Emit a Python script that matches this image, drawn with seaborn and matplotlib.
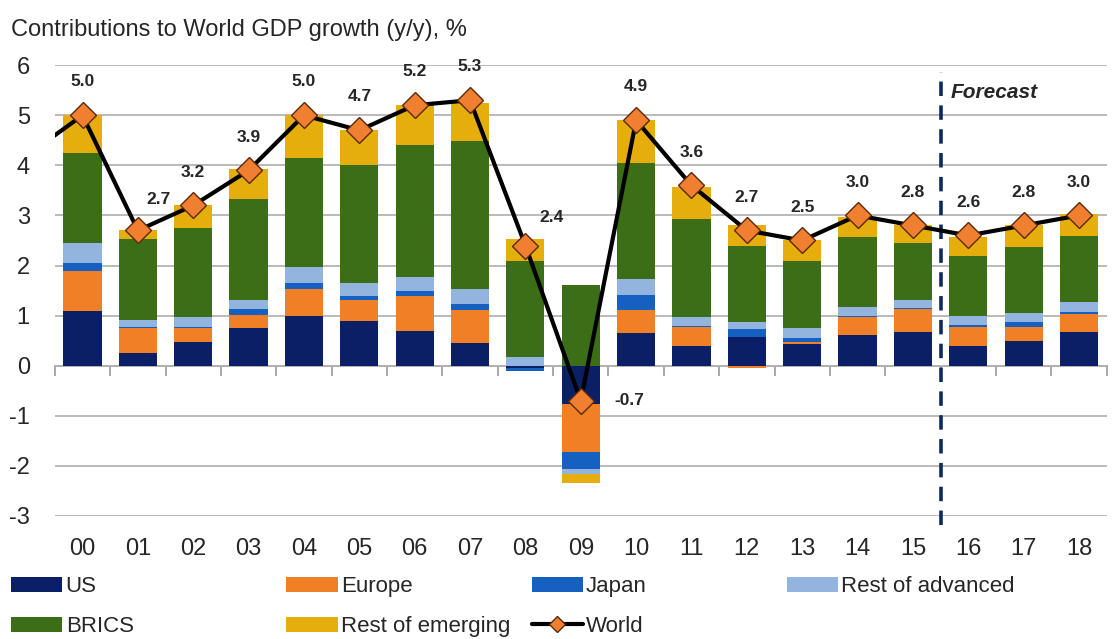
import numpy as np
import pandas as pd
import matplotlib
matplotlib.use("Agg")
import matplotlib.pyplot as plt
from matplotlib.patches import Patch
from matplotlib.lines import Line2D
import seaborn as sns

# contributions to world GDP growth, percentage points
years = ["00", "01", "02", "03", "04", "05", "06", "07", "08", "09",
         "10", "11", "12", "13", "14", "15", "16", "17", "18"]
us = [1.10, 0.25, 0.47, 0.75, 1.00, 0.89, 0.70, 0.45, -0.05, -0.77,
      0.65, 0.40, 0.58, 0.43, 0.62, 0.67, 0.40, 0.50, 0.67]
europe = [0.80, 0.50, 0.28, 0.27, 0.53, 0.42, 0.70, 0.66, 0.00, -0.96,
          0.46, 0.38, -0.05, 0.05, 0.35, 0.46, 0.37, 0.28, 0.36]
japan = [0.15, 0.02, 0.02, 0.11, 0.12, 0.09, 0.09, 0.12, -0.05, -0.34,
         0.31, 0.02, 0.15, 0.07, 0.02, 0.02, 0.05, 0.10, 0.05]
rest_adv = [0.40, 0.15, 0.20, 0.18, 0.32, 0.25, 0.29, 0.30, 0.17, -0.10,
            0.31, 0.17, 0.14, 0.20, 0.18, 0.16, 0.18, 0.17, 0.19]
brics = [1.80, 1.60, 1.78, 2.02, 2.18, 2.36, 2.62, 2.96, 1.93, 1.61,
         2.32, 1.96, 1.53, 1.35, 1.40, 1.14, 1.20, 1.32, 1.31]
rest_em = [0.75, 0.18, 0.45, 0.60, 0.85, 0.70, 0.80, 0.76, 0.42, -0.18,
           0.85, 0.64, 0.40, 0.41, 0.40, 0.35, 0.37, 0.44, 0.44]
world = [5.0, 2.7, 3.2, 3.9, 5.0, 4.7, 5.2, 5.3, 2.4, -0.7,
         4.9, 3.6, 2.7, 2.5, 3.0, 2.8, 2.6, 2.8, 3.0]
world_prev = 4.2   # 1999, only the start of the line shows at the left edge

series = {"US": us, "Europe": europe, "Japan": japan,
          "Rest of advanced": rest_adv, "BRICS": brics,
          "Rest of emerging": rest_em}
colors = {"US": "#0b1f66", "Europe": "#f07f25", "Japan": "#1560c0",
          "Rest of advanced": "#94b4e0", "BRICS": "#3b6e17",
          "Rest of emerging": "#e6ae0c"}

sns.set_theme(style="white")
plt.rcParams["font.family"] = ["Liberation Sans", "DejaVu Sans"]
plt.rcParams["axes.unicode_minus"] = False
txt = "#262626"

fig = plt.figure(figsize=(11.19, 6.39), dpi=100)
ax = fig.add_axes([0.049, 0.1925, 0.940, 0.7055])

# stacked bars, positives stack up from 0, negatives stack down
pos_base = np.zeros(len(years))
neg_base = np.zeros(len(years))
for name, vals in series.items():
    v = np.array(vals)
    base = np.where(v >= 0, pos_base, neg_base)
    df = pd.DataFrame({"year": years, "val": v})
    sns.barplot(data=df, x="year", y="val", order=years, bottom=base,
                color=colors[name], saturation=1, width=0.69,
                edgecolor="none", linewidth=0,
                errorbar=None, ax=ax, zorder=2)
    pos_base = pos_base + np.clip(v, 0, None)
    neg_base = neg_base + np.clip(v, None, 0)

# world line
xs = np.arange(-1, len(years))
sns.lineplot(x=xs, y=[world_prev] + world, sort=False, estimator=None,
             color="black", linewidth=3, marker="D", markersize=13,
             markerfacecolor="#f07f30", markeredgecolor="#5a2a10",
             markeredgewidth=1.0, ax=ax, zorder=5)

# value labels
offsets = {1: (15, 22), 8: (19, 20), 9: (24, 0)}
for i, w in enumerate(world):
    dx, dy = offsets.get(i, (0, 24))
    ax.annotate(f"{w:.1f}", (i, w), xytext=(dx, dy), textcoords="offset points",
                ha="left" if i == 9 else "center", va="center",
                fontsize=12.5, fontweight="bold", color=txt, zorder=6)

# forecast divider
ax.axvline(15.5, ymin=-0.02, ymax=0.985, color="#0e2a5c", linewidth=2.6,
           linestyle=(0, (4, 2.6)), clip_on=False, zorder=4)
ax.text(15.68, 5.45, "Forecast", fontsize=15, fontstyle="italic",
        fontweight="bold", color=txt, ha="left", va="center")

ax.set_xlim(-0.5, len(years) - 0.5)
ax.set_ylim(-3, 6)
ax.set_yticks(range(-3, 7))
ax.yaxis.grid(True, color="#b4b4b4", linewidth=1.3, zorder=0)
ax.set_axisbelow(True)
ax.set_xlabel("")
ax.set_ylabel("")
for s in ax.spines.values():
    s.set_visible(False)
ax.tick_params(axis="x", length=0, pad=16, labelsize=17, labelcolor=txt)
ax.tick_params(axis="y", length=0, pad=18, labelsize=17, labelcolor=txt)

# zero axis with tick marks between categories
zero_ax = ax.secondary_xaxis(1 / 3)
zero_ax.set_xticks(np.arange(-0.5, len(years)))
zero_ax.tick_params(axis="x", length=7, width=1.2, color="#9a9a9a",
                    labelbottom=False, labeltop=False, direction="out")
zero_ax.spines["bottom"].set_color("#9a9a9a")
zero_ax.spines["bottom"].set_linewidth(1.3)

fig.text(0.010, 0.953, "Contributions to World GDP growth (y/y), %",
         fontsize=17, color=txt, ha="left", va="center")

# legend: one small legend per column, placed like the original
h = {n: Patch(facecolor=c, edgecolor="none") for n, c in colors.items()}
world_h = Line2D([], [], color="black", linewidth=3, marker="D", markersize=8,
                 markerfacecolor="#f07f30", markeredgecolor="#5a2a10")
columns = [
    (0.010, [h["US"], h["BRICS"]], ["US", "BRICS"]),
    (0.256, [h["Europe"], h["Rest of emerging"]], ["Europe", "Rest of emerging"]),
    (0.475, [h["Japan"], world_h], ["Japan", "World"]),
    (0.703, [h["Rest of advanced"]], ["Rest of advanced"]),
]
for x0, hs, ls in columns:
    fig.legend(hs, ls, loc="upper left", bbox_to_anchor=(x0, 0.098),
               frameon=False, fontsize=16, handlelength=2.3, handleheight=0.7,
               handletextpad=0.15, labelspacing=0.85, borderaxespad=0,
               borderpad=0, labelcolor=txt)

fig.savefig("out.png", dpi=100)
